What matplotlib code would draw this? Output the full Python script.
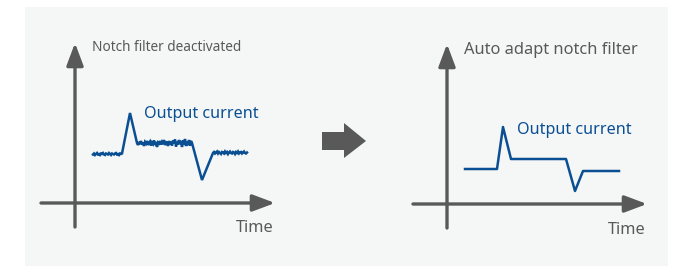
import numpy as np
import matplotlib
matplotlib.use("Agg")
import matplotlib.pyplot as plt
from matplotlib.patches import Rectangle, Polygon

plt.rcParams['font.family'] = ['Noto Sans', 'DejaVu Sans']

# --- data (time / output current, arbitrary units) ---
# left: notch filter deactivated -> noisy current
noisy_base_start = [4.85, 4.95, 4.8, 4.9, 5.0, 4.85, 4.9, 4.8, 4.95, 4.9,
                    5.0, 4.85, 4.8, 4.95, 4.9, 4.85, 5.0, 4.9, 4.8, 4.95,
                    4.9, 4.85, 4.95, 5.0, 4.85, 4.9, 4.8, 4.95, 4.9, 4.95]
noisy_plateau = [6.0, 5.8, 6.1, 5.9, 6.2, 5.85, 6.05, 5.7, 6.1, 5.95,
                 6.2, 5.8, 6.0, 6.15, 5.75, 6.05, 5.9, 6.25, 5.8, 6.1,
                 5.6, 6.05, 5.95, 6.2, 5.85, 6.1, 5.9, 6.3, 5.8, 6.0,
                 6.15, 5.7, 6.2, 5.9, 6.1, 5.75, 6.25, 5.95, 6.35, 5.65,
                 6.1, 5.85, 6.3, 5.9, 6.2, 5.6, 6.25, 5.85, 6.4, 5.7,
                 6.1, 5.8, 6.3, 5.75, 6.2, 6.0]
noisy_base_end = [5.0, 5.1, 4.95, 5.05, 5.15, 4.95, 5.1, 5.0, 4.9, 5.1,
                  5.05, 4.95, 5.15, 5.0, 5.1, 4.9, 5.05, 5.15, 5.0, 4.95,
                  5.1, 5.05, 4.9, 5.1, 5.0, 5.15, 4.95, 5.05, 5.1, 4.95,
                  5.05, 5.15, 5.0, 4.95, 5.05]
noisy_spans = [(1.8, 4.7), (6.2, 11.7), (13.8, 17.2)]
noisy_peak = (5.5, 9.0)
noisy_dip = (12.7, 2.3)

# right: auto adapt notch filter -> clean current
clean_t = [1.8, 5.0, 5.6, 6.4, 11.9, 12.8, 13.6, 17.2]
clean_i = [3.5, 3.5, 7.7, 4.5, 4.5, 1.3, 3.3, 3.3]

titles = ["Notch filter deactivated", "Auto adapt notch filter"]
signal_label = "Output current"
x_label = "Time"

# build the noisy trace
segs = [noisy_base_start, noisy_plateau, noisy_base_end]
left_t, left_i = [], []
for k, (seg, (t0, t1)) in enumerate(zip(segs, noisy_spans)):
    left_t += list(np.linspace(t0, t1, len(seg)))
    left_i += seg
    if k == 0:
        left_t.append(noisy_peak[0]); left_i.append(noisy_peak[1])
    elif k == 1:
        left_t.append(noisy_dip[0]); left_i.append(noisy_dip[1])

GRAY = "#595959"
BLUE = "#0b4f93"
W, H = 681, 268

fig = plt.figure(figsize=(W / 100, H / 100), dpi=100)
fig.patch.set_facecolor("white")

# background panel + middle arrow (pixel coordinates)
bg = fig.add_axes([0, 0, 1, 1])
bg.set_xlim(0, W)
bg.set_ylim(H, 0)
bg.axis("off")
bg.add_patch(Rectangle((25, 7), 643, 259, facecolor="#f5f6f6", edgecolor="none"))
bg.add_patch(Polygon([(322, 132), (344, 132), (344, 123), (366, 141),
                      (344, 158), (344, 150), (322, 150)],
                     closed=True, facecolor=GRAY, edgecolor="none"))


def make_diagram(ox, oy):
    # 10 px per data unit, origin at pixel (ox, oy)
    left = (ox - 34) / W
    bottom = (H - (oy + 24)) / H
    ax = fig.add_axes([left, bottom, 234 / W, 184 / H])
    ax.set_xlim(-3.4, 20.0)
    ax.set_ylim(-2.4, 16.0)
    ax.axis("off")
    ax.patch.set_alpha(0)
    arrow = dict(arrowstyle="-|>,head_length=0.8,head_width=0.3",
                 color=GRAY, lw=2.4, mutation_scale=17, shrinkA=0, shrinkB=0)
    ax.annotate("", xy=(20.0, 0), xytext=(-3.4, 0), arrowprops=arrow)
    ax.annotate("", xy=(0, 16.0), xytext=(0, -2.4), arrowprops=arrow)
    return ax


ax1 = make_diagram(75, 203)
ax1.plot(left_t, left_i, color=BLUE, lw=1.8, solid_joinstyle="miter")
ax1.text(1.7, 15.5, titles[0], color=GRAY, fontsize=9.8, ha="left", va="center")
ax1.text(6.9, 8.9, signal_label, color=BLUE, fontsize=11.6, ha="left", va="center")
ax1.text(19.9, -2.5, x_label, color=GRAY, fontsize=11.8, ha="right", va="center")

ax2 = make_diagram(447, 204)
ax2.plot(clean_t, clean_i, color=BLUE, lw=1.8)
ax2.text(1.7, 15.4, titles[1], color=GRAY, fontsize=11.8, ha="left", va="center")
ax2.text(7.0, 7.4, signal_label, color=BLUE, fontsize=11.6, ha="left", va="center")
ax2.text(19.9, -2.6, x_label, color=GRAY, fontsize=11.8, ha="right", va="center")

fig.savefig("out.png", dpi=100, facecolor=fig.get_facecolor())
